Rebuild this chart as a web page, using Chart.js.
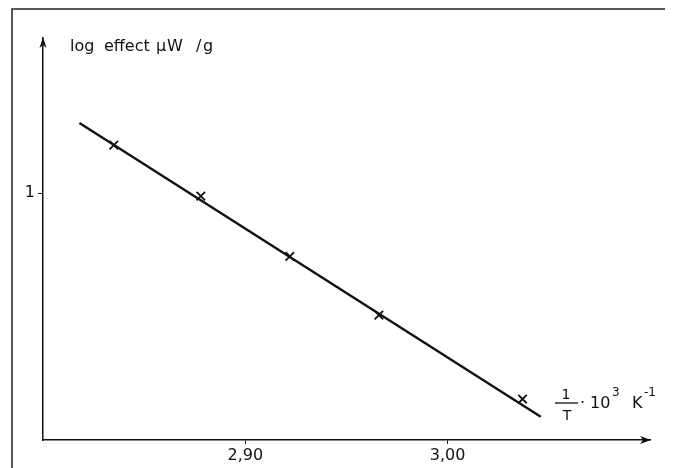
<!DOCTYPE html>
<html>
<head>
<meta charset="utf-8">
<script src="https://cdn.jsdelivr.net/npm/chart.js@4.4.1/dist/chart.umd.min.js"></script>
<style>
  html, body { margin: 0; padding: 0; background: #fff; }
  #wrap { width: 674px; height: 468px; }
</style>
</head>
<body>
<div id="wrap"><canvas id="graph"></canvas></div>
<script>
// ticks shown on the axes
const xTicks = [2.90, 3.00];
const yTicks = [1];

// measured points (1/T * 10^3, log effect)
const crossX = [2.835, 2.878, 2.922, 2.966, 3.037];
const crossY = [1.097, 0.994, 0.872, 0.753, 0.583];

// fitted straight line, end points
const fitX = [2.818, 3.046];
const fitY = [1.142, 0.547];

const FONT = '"DejaVu Sans", "Liberation Sans", sans-serif';
const INK = '#111';

/* frame, arrows and the axis texts */
const decor = {
    id: 'decor',
    beforeDraw(chart) {
        const c = chart.ctx;
        c.save();
        c.strokeStyle = '#222';
        c.lineWidth = 1.5;
        c.beginPath();
        c.moveTo(12, 468);
        c.lineTo(12, 9);
        c.lineTo(665, 9);
        c.stroke();
        c.restore();
    },
    afterDraw(chart) {
        const c = chart.ctx;
        const a = chart.chartArea;
        c.save();
        c.fillStyle = INK;
        c.strokeStyle = INK;
        c.lineWidth = 1.3;

        // y arrow
        c.beginPath();
        c.moveTo(a.left, a.top - 1);
        c.lineTo(a.left - 3.5, a.top + 10);
        c.lineTo(a.left, a.top + 7);
        c.lineTo(a.left + 3.5, a.top + 10);
        c.closePath();
        c.fill();

        // x arrow
        c.beginPath();
        c.moveTo(a.right + 1, a.bottom);
        c.lineTo(a.right - 10, a.bottom - 4);
        c.lineTo(a.right - 7, a.bottom);
        c.lineTo(a.right - 10, a.bottom + 4);
        c.closePath();
        c.fill();

        // y title
        c.textBaseline = 'alphabetic';
        c.textAlign = 'left';
        c.font = '16px ' + FONT;
        c.fillText('log', 70, 51);
        c.fillText('effect', 104, 51);
        c.fillText('\u03BC', 156, 51);
        c.fillText('W', 167, 51);
        c.fillText('/', 196, 51);
        c.fillText('g', 203, 51);

        // x title: 1/T · 10^3 K^-1
        c.font = '14px ' + FONT;
        c.textAlign = 'center';
        c.fillText('1', 566, 399);
        c.fillText('T', 567, 420);
        c.beginPath();
        c.moveTo(555, 403);
        c.lineTo(578, 403);
        c.stroke();
        c.textAlign = 'left';
        c.font = '16px ' + FONT;
        c.fillText('\u00B7', 580, 408);
        c.fillText('10', 590, 408);
        c.font = '12px ' + FONT;
        c.fillText('3', 612, 396);
        c.font = '16px ' + FONT;
        c.fillText('K', 632, 408);
        c.font = '12px ' + FONT;
        c.fillText('-1', 644, 396);
        c.restore();
    }
};

const ctx = document.getElementById('graph').getContext('2d');
const myChart = new Chart(ctx, {
    type: 'scatter',
    data: {
        datasets: [{
            label: 'fit',
            data: fitX.map((x, i) => ({ x: x, y: fitY[i] })),
            showLine: true,
            borderColor: INK,
            borderWidth: 2.4,
            pointRadius: 0,
            fill: false
        }, {
            label: 'measured',
            data: crossX.map((x, i) => ({ x: x, y: crossY[i] })),
            pointStyle: 'crossRot',
            pointRadius: 6,
            pointBorderWidth: 1.8,
            borderColor: INK,
            backgroundColor: INK
        }]
    },
    options: {
        responsive: true,
        maintainAspectRatio: false,
        animation: false,
        layout: {
            padding: { left: 0, top: 38, right: 24, bottom: 0 }
        },
        scales: {
            x: {
                type: 'linear',
                min: 2.80,
                max: 3.10,
                afterBuildTicks: (scale) => {
                    scale.ticks = xTicks.map(v => ({ value: v }));
                },
                afterFit: (scale) => { scale.height = 28; },
                grid: {
                    display: true,
                    drawOnChartArea: false,
                    tickLength: 4,
                    color: INK,
                    lineWidth: 1
                },
                border: { display: true, color: INK, width: 1.5 },
                ticks: {
                    color: INK,
                    padding: 2,
                    maxRotation: 0,
                    font: { family: FONT, size: 16 },
                    callback: (v) => v.toFixed(2).replace('.', ',')
                }
            },
            y: {
                type: 'linear',
                min: 0.5,
                max: 1.314,
                afterBuildTicks: (scale) => {
                    scale.ticks = yTicks.map(v => ({ value: v }));
                },
                afterFit: (scale) => { scale.width = 43; },
                grid: {
                    display: true,
                    drawOnChartArea: false,
                    tickLength: 5,
                    color: INK,
                    lineWidth: 1
                },
                border: { display: true, color: INK, width: 1.5 },
                ticks: {
                    color: INK,
                    padding: 3,
                    font: { family: FONT, size: 16 },
                    callback: (v) => String(v)
                }
            }
        },
        plugins: {
            legend: { display: false },
            tooltip: { enabled: false },
            title: { display: false }
        }
    },
    plugins: [decor]
});
</script>
</body>
</html>
